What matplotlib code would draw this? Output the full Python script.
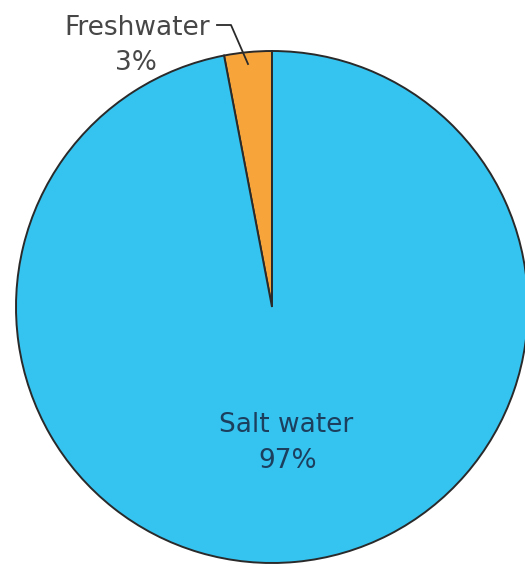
import matplotlib
matplotlib.use("Agg")
import matplotlib.pyplot as plt

labels = ["Freshwater", "Salt water"]
values = [3, 97]
colors = ["#F7A53B", "#35C3F0"]

W, H = 525, 566
fig = plt.figure(figsize=(W / 100, H / 100), dpi=100)
ax = fig.add_axes([0, 0, 1, 1])

cx, cy, r = 272, H - 307, 256
ax.pie(values, colors=colors, startangle=90, counterclock=True,
       center=(cx, cy), radius=r, frame=True,
       wedgeprops=dict(edgecolor="#2a2a2a", linewidth=1.4))
ax.set_xlim(0, W)
ax.set_ylim(0, H)
ax.set_aspect("equal")
ax.axis("off")

font = ["DejaVu Sans"]
fs = 19
ax.text(137, H - 35, labels[0], ha="center", va="baseline", fontsize=fs,
        color="#474747", family=font)
ax.text(136, H - 70, f"{values[0]}%", ha="center", va="baseline", fontsize=fs,
        color="#474747", family=font)
ax.plot([217, 231, 248], [H - 25, H - 25, H - 64], color="#2a2a2a", lw=1.3)

ax.text(286, H - 432, labels[1], ha="center", va="baseline", fontsize=fs,
        color="#1c3f5e", family=font)
ax.text(288, H - 468, f"{values[1]}%", ha="center", va="baseline", fontsize=fs,
        color="#1c3f5e", family=font)

fig.savefig("out.png", dpi=100)
